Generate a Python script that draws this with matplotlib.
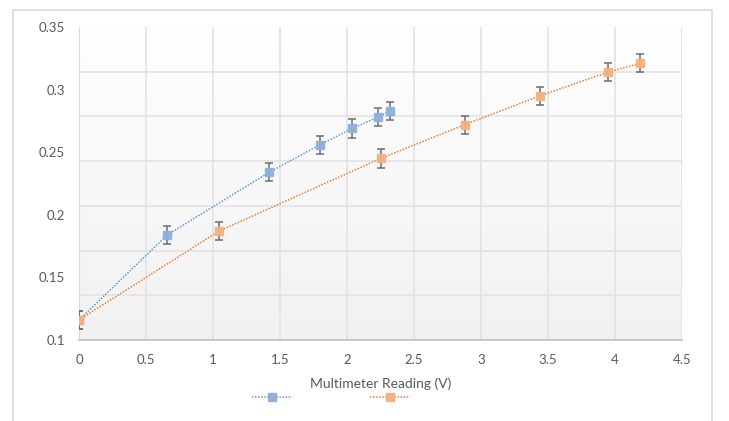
import matplotlib.pyplot as plt
import numpy as np
from matplotlib.lines import Line2D
from matplotlib.patches import Rectangle

# measured readings for the two runs
blue_x = [0.0, 0.66, 1.42, 1.80, 2.04, 2.23, 2.32]
blue_y = [0.116, 0.184, 0.234, 0.256, 0.269, 0.278, 0.283]
orange_x = [0.0, 1.045, 2.25, 2.88, 3.44, 3.95, 4.19]
orange_y = [0.116, 0.187, 0.245, 0.272, 0.295, 0.314, 0.321]
y_err = 0.0073

x_ticks = [0, 0.5, 1, 1.5, 2, 2.5, 3, 3.5, 4, 4.5]
x_tick_labels = ['0', '0.5', '1', '1.5', '2', '2.5', '3', '3.5', '4', '4.5']
y_ticks = [0.1, 0.15, 0.2, 0.25, 0.3, 0.35]
y_tick_labels = ['0.1', '0.15', '0.2', '0.25', '0.3', '0.35']

text_grey = '#595959'
grid_grey = '#e3e3e3'
blue_line, blue_marker = '#5b9bd5', '#8fb0db'
orange_line, orange_marker = '#ed7d31', '#f4b183'

plt.rcParams['font.family'] = ['Lato', 'DejaVu Sans']

fig = plt.figure(figsize=(7.29, 4.21), dpi=100)
fig.patches.append(Rectangle((13 / 729, -0.1), 699 / 729, 1 - 10 / 421 + 0.1,
                             transform=fig.transFigure, fill=False,
                             edgecolor='#d9d9d9', linewidth=1.2))

ax = fig.add_axes([79 / 729, 1 - 340 / 421, 603 / 729, 313 / 421])

# soft vertical gradient behind the plot area
grad = np.linspace(0, 1, 256).reshape(-1, 1)
ax.imshow(grad, extent=[0, 1, 0, 1], transform=ax.transAxes, aspect='auto',
          cmap=plt.matplotlib.colors.LinearSegmentedColormap.from_list(
              'bg', ['#f1f1f1', '#ffffff']),
          origin='lower', zorder=0)

ax.set_xlim(0, 4.5)
ax.set_ylim(0.1, 0.35)

ax.set_xticks(x_ticks)
ax.set_xticklabels(x_tick_labels)
ax.set_yticks(y_ticks)
ax.set_yticklabels(y_tick_labels)
ax.set_yticks(np.linspace(0.1, 0.35, 8), minor=True)
ax.tick_params(axis='both', which='both', length=0, colors=text_grey,
               labelsize=9.5)
ax.tick_params(axis='x', pad=10)
ax.tick_params(axis='y', pad=10)

ax.grid(False)
ax.xaxis.grid(True, color=grid_grey, linewidth=1.2, zorder=1)
ax.yaxis.grid(True, which='minor', color=grid_grey, linewidth=1.2, zorder=1)
ax.set_axisbelow(True)

for side in ['top', 'right']:
    ax.spines[side].set_visible(False)
ax.spines['left'].set_color('#d9d9d9')
ax.spines['bottom'].set_color('#bfbfbf')
ax.spines['bottom'].set_linewidth(1.2)

for xs, ys, lc, mc in [(blue_x, blue_y, blue_line, blue_marker),
                       (orange_x, orange_y, orange_line, orange_marker)]:
    ax.plot(xs, ys, color=lc, linestyle=(0, (1, 1)), linewidth=1.1, zorder=3)
    ax.errorbar(xs, ys, yerr=y_err, fmt='none', ecolor='#6d6d6d',
                elinewidth=1.1, capsize=3, capthick=1.1, zorder=4)
    ax.plot(xs, ys, linestyle='none', marker='s', markersize=5.5,
            markerfacecolor=mc, markeredgecolor=mc, alpha=0.95, zorder=5)

ax.set_xlabel('Multimeter Reading (V)', color=text_grey, fontsize=10,
              labelpad=8)

handles = [Line2D([], [], color=blue_line, linestyle=(0, (1, 1)), linewidth=1.1,
                  marker='s', markersize=5.5, markerfacecolor=blue_marker,
                  markeredgecolor=blue_marker),
           Line2D([], [], color=orange_line, linestyle=(0, (1, 1)), linewidth=1.1,
                  marker='s', markersize=5.5, markerfacecolor=orange_marker,
                  markeredgecolor=orange_marker)]
fig.legend(handles, ['', ''], loc='center', ncol=2, frameon=False,
           bbox_to_anchor=(331 / 729, 1 - 398 / 421), handlelength=2.9,
           columnspacing=5.6, handletextpad=0)

fig.savefig('out.png', dpi=100)
